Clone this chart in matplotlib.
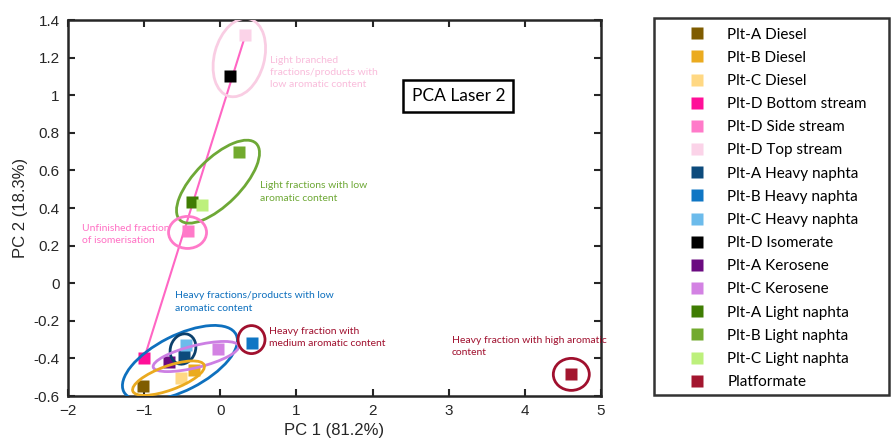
import matplotlib.pyplot as plt
from matplotlib.patches import Ellipse, Rectangle
from matplotlib.lines import Line2D
from matplotlib.transforms import ScaledTranslation

# PCA scores (PC1, PC2) per sample
names = ['Plt-A Diesel', 'Plt-B Diesel', 'Plt-C Diesel', 'Plt-D Bottom stream',
         'Plt-D Side stream', 'Plt-D Top stream', 'Plt-A Heavy naphta',
         'Plt-B Heavy naphta', 'Plt-C Heavy naphta', 'Plt-D Isomerate',
         'Plt-A Kerosene', 'Plt-C Kerosene', 'Plt-A Light naphta',
         'Plt-B Light naphta', 'Plt-C Light naphta', 'Platformate']
pc1 = [-1.01, -0.35, -0.51, -1.00, -0.43, 0.33, -0.48, 0.41, -0.45, 0.13,
       -0.68, -0.03, -0.37, 0.24, -0.24, 4.61]
pc2 = [-0.548, -0.46, -0.505, -0.40, 0.28, 1.32, -0.38, -0.32, -0.33, 1.10,
       -0.42, -0.35, 0.43, 0.70, 0.415, -0.485]
colors = ['#7f5c00', '#ebab1f', '#ffd883', '#ff0f98', '#ff7ac9', '#fbd3e8',
          '#0d4b7c', '#0f76c4', '#6cbbeb', '#000000', '#6b0b80', '#d382e3',
          '#3f7d03', '#72aa2e', '#bdf07c', '#a3162f']

# Plt-D streams are joined by a line (bottom -> top)
line_x = [pc1[3], pc1[5]]
line_y = [pc2[3], pc2[5]]

plt.rcParams['font.family'] = ['Liberation Sans', 'DejaVu Sans']

fig = plt.figure(figsize=(8.91, 4.46), dpi=100)
ax = fig.add_axes([68 / 891, 50 / 446, 533 / 891, 376 / 446])

ax.plot(line_x, line_y, color='#ff66c4', lw=1.5, zorder=2)
for x, y, c in zip(pc1, pc2, colors):
    ax.plot(x, y, 's', color=c, ms=8, mec='none', zorder=3)

ax.set_xlim(-2, 5)
ax.set_ylim(-0.6, 1.4)
ax.set_xticks(range(-2, 6))
ax.set_yticks([-0.6, -0.4, -0.2, 0, 0.2, 0.4, 0.6, 0.8, 1, 1.2, 1.4])
ax.set_yticklabels(['-0.6', '-0.4', '-0.2', '0', '0.2', '0.4', '0.6', '0.8',
                    '1', '1.2', '1.4'])
ax.tick_params(direction='in', top=True, right=True, length=5, width=1.5,
               labelsize=11, colors='#262626', pad=6)
for s in ax.spines.values():
    s.set_linewidth(1.8)
    s.set_color('#262626')
ax.set_xlabel('PC 1 (81.2%)', fontsize=12, color='#262626', labelpad=3)
ax.set_ylabel('PC 2 (18.3%)', fontsize=12, color='#262626', labelpad=4)

# group ellipses: centre (data), major/minor (pixels), angle (deg)
groups = [
    ((0.25, 1.20), 80, 50, 75, '#f9cde3'),
    ((-0.03, 0.54), 108, 46, 45, '#6ea836'),
    ((-0.43, 0.27), 38, 32, 0, '#ff7ac9'),
    ((-0.53, -0.425), 126, 55, 27, '#0e70be'),
    ((-0.49, -0.35), 31, 25, 70, '#0c406c'),
    ((-0.32, -0.39), 88, 22, 14, '#cc7fe3'),
    ((-0.68, -0.505), 76, 24, 20, '#eaaa1f'),
    ((0.41, -0.30), 28, 27, 90, '#a0102e'),
    ((4.61, -0.485), 36, 32, 0, '#a0102e'),
]
for (cx, cy), w, h, ang, c in groups:
    tr = fig.dpi_scale_trans + ScaledTranslation(cx, cy, ax.transData)
    ax.add_patch(Ellipse((0, 0), w / 100, h / 100, angle=ang, transform=tr,
                         fill=False, ec=c, lw=2, zorder=4))

note = dict(fontsize=7.5, family=['Lato', 'DejaVu Sans'], va='center',
            linespacing=1.45)
ax.text(0.65, 1.12, 'Light branched\nfractions/products with\nlow aromatic content',
        color='#f9bcdb', **note)
ax.text(0.52, 0.485, 'Light fractions with low\naromatic content',
        color='#6ea836', **note)
ax.text(-1.82, 0.26, 'Unfinished fraction\nof isomerisation',
        color='#ff70c4', **note)
ax.text(-0.59, -0.10, 'Heavy fractions/products with low\naromatic content',
        color='#0e70be', **note)
ax.text(0.64, -0.29, 'Heavy fraction with\nmedium aromatic content',
        color='#a0102e', **note)
ax.text(3.04, -0.335, 'Heavy fraction with high aromatic\ncontent',
        color='#a0102e', **note)

ax.text(3.13, 0.995, 'PCA Laser 2', fontsize=12.5, family=['Lato', 'DejaVu Sans'],
        ha='center', va='center', zorder=5)
fig.patches.append(Rectangle((403 / 891, 1 - 112 / 446), 110 / 891, 32 / 446,
                             transform=fig.transFigure, fill=False,
                             ec='black', lw=1.8))

handles = [Line2D([], [], marker='s', ls='none', color=c, mec='none', ms=8)
           for c in colors]
fig.legend(handles, names, loc='upper left', bbox_to_anchor=(680 / 891, 1 - 20 / 446),
           frameon=False, prop={'family': ['Lato', 'DejaVu Sans'], 'size': 11},
           labelspacing=0.6, handletextpad=1.4, handlelength=1.2, borderpad=0)
fig.patches.append(Rectangle((654 / 891, 1 - 395 / 446), 235 / 891, 377 / 446,
                             transform=fig.transFigure, fill=False,
                             ec='#333333', lw=1.8))

fig.savefig('out.png', dpi=100)
